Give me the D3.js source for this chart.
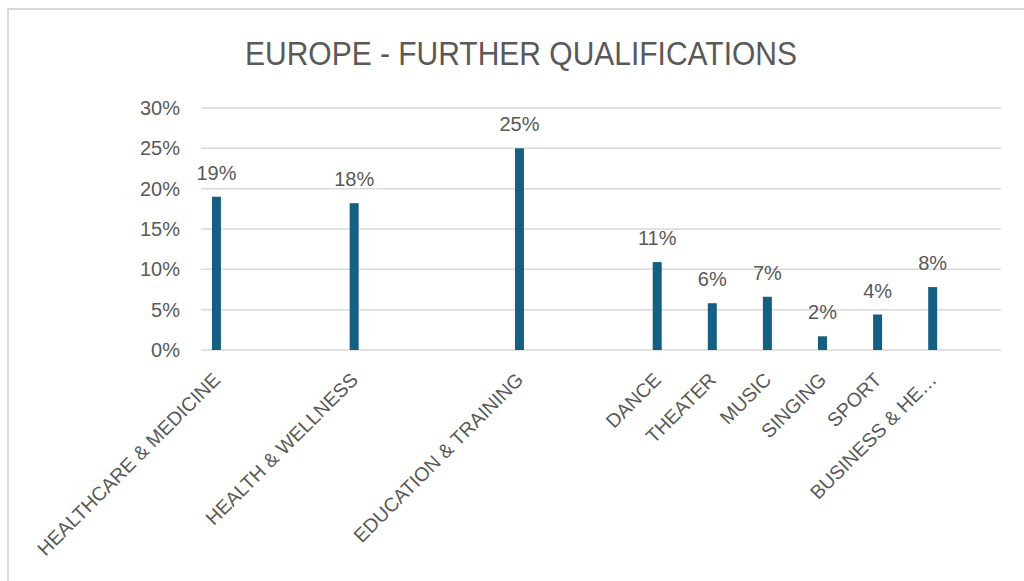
<!DOCTYPE html>
<html>
<head>
<meta charset="utf-8">
<script src="https://cdn.jsdelivr.net/npm/d3@7"></script>
<style>
    body { margin: 0; background: #fff; }
    svg { display: block; }
    text { font-family: "Liberation Sans", Arial, sans-serif; fill: #595959; }
</style>
</head>
<body>
<svg class="chart" width="1024" height="581"></svg>
<script>
// data
const categories = [
    'HEALTHCARE & MEDICINE', 'HEALTH & WELLNESS', 'EDUCATION & TRAINING',
    'DANCE', 'THEATER', 'MUSIC', 'SINGING', 'SPORT', 'BUSINESS & HE\u2026'
];
const shares = [0.19, 0.182, 0.25, 0.109, 0.058, 0.066, 0.017, 0.044, 0.078];
const yTicks = [0, 0.05, 0.10, 0.15, 0.20, 0.25, 0.30];
const title = 'EUROPE - FURTHER QUALIFICATIONS';

// layout: gap (in slots) before each category after the first
const slotGaps = [2.5, 3, 2.5, 1, 1, 1, 1, 1];
const slots = slotGaps.reduce((acc, g) => { acc.push(acc[acc.length - 1] + g); return acc; }, [0]);

const svg = d3.select('.chart');

const plot = { left: 201, right: 1001, top: 108, bottom: 350 };

// chart frame
svg.append('rect')
    .attr('x', 8).attr('y', 9)
    .attr('width', 1030).attr('height', 600)
    .attr('fill', 'none')
    .attr('stroke', '#d9d9d9')
    .attr('stroke-width', 2);

svg.append('text')
    .attr('x', 521).attr('y', 65)
    .attr('text-anchor', 'middle')
    .attr('font-family', '"Liberation Sans Narrow", "Liberation Sans", Arial, sans-serif')
    .attr('font-size', 34)
    .attr('textLength', 552)
    .attr('lengthAdjust', 'spacingAndGlyphs')
    .text(title);

const xScale = d3.scaleLinear()
    .domain([-0.28, 14.24])
    .range([plot.left, plot.right]);

const yScale = d3.scaleLinear()
    .domain([0, 0.30])
    .range([plot.bottom, plot.top]);

const fmt = d3.format('.0%');

// gridlines
svg.append('g')
    .selectAll('line')
    .data(yTicks)
    .join('line')
    .attr('x1', plot.left).attr('x2', plot.right)
    .attr('y1', d => yScale(d)).attr('y2', d => yScale(d))
    .attr('stroke', '#d9d9d9')
    .attr('stroke-width', 1.5);

// y axis labels
const yAxis = d3.axisLeft(yScale)
    .tickValues(yTicks)
    .tickFormat(fmt)
    .tickSize(0)
    .tickPadding(0);

svg.append('g')
    .attr('transform', `translate(180,0)`)
    .call(yAxis)
    .call(g => g.select('.domain').remove())
    .call(g => g.selectAll('text')
        .attr('font-size', 20)
        .attr('font-family', null)
        .attr('fill', '#595959'));

// bars
const barWidth = 9;
svg.append('g')
    .selectAll('rect')
    .data(shares)
    .join('rect')
    .attr('x', (d, i) => xScale(slots[i]) - barWidth / 2)
    .attr('y', d => yScale(d))
    .attr('width', barWidth)
    .attr('height', d => yScale(0) - yScale(d))
    .attr('fill', '#156082');

// data labels
svg.append('g')
    .selectAll('text')
    .data(shares)
    .join('text')
    .attr('x', (d, i) => xScale(slots[i]))
    .attr('y', d => yScale(d) - 17)
    .attr('text-anchor', 'middle')
    .attr('font-size', 20)
    .text(d => fmt(d));

// category labels
svg.append('g')
    .selectAll('text')
    .data(categories)
    .join('text')
    .attr('transform', (d, i) => `translate(${xScale(slots[i]) + 5},381) rotate(-45)`)
    .attr('text-anchor', 'end')
    .attr('font-size', 19.5)
    .text(d => d);
</script>
</body>
</html>
